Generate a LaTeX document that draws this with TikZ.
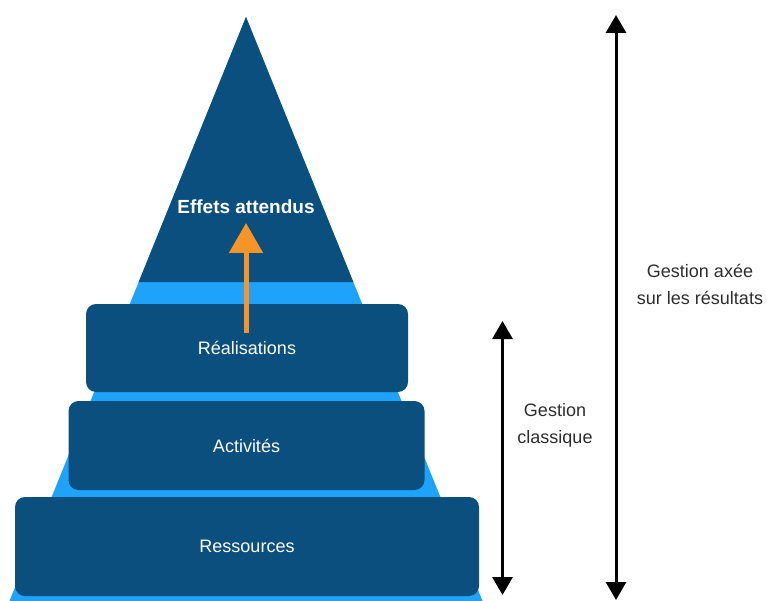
\documentclass[tikz,border=0pt]{standalone}
\usepackage{fontspec}
\setmainfont{Liberation Sans}
\usetikzlibrary{arrows.meta}
\definecolor{darkblue}{RGB}{11,79,126}
\definecolor{lightblue}{RGB}{30,162,250}
\definecolor{orangearrow}{RGB}{245,148,40}
\definecolor{labelgray}{RGB}{45,45,45}
\tikzset{
  layerbox/.style={fill=darkblue, rounded corners=10pt, text=white, inner sep=0pt,
    font=\fontsize{18}{21}\selectfont},
  sidelabel/.style={text=labelgray, align=center, font=\fontsize{18}{27}\selectfont},
  blackarrow/.style={line width=3pt, draw=black, {Triangle[width=20pt,length=18pt]}-{Triangle[width=20pt,length=18pt]}},
  orangearr/.style={line width=5pt, draw=orangearrow, -{Triangle[width=33pt,length=30pt]}}
}
\begin{document}
\begin{tikzpicture}[x=1pt,y=-1pt]
\useasboundingbox (0,0) rectangle (767,601);
% pyramid
\fill[lightblue] (246,17) -- (482.5,601) -- (9.5,601) -- cycle;
\fill[darkblue] (246,17) -- (353.3,282) -- (138.7,282) -- cycle;
\node[text=white, font=\bfseries\fontsize{19}{22}\selectfont] (effets) at (246,207) {Effets attendus};
% layers
\node[layerbox, minimum width=322pt, minimum height=88pt] (real) at (247,348) {Réalisations};
\node[layerbox, minimum width=356pt, minimum height=89pt] (act) at (246.5,445.5) {Activités};
\node[layerbox, minimum width=464pt, minimum height=99pt] (res) at (247,546.5) {Ressources};
% orange arrow
\coordinate (oa) at (246,333);
\coordinate (ob) at (246,223);
\draw[orangearr] (oa) -- (ob);
% black arrows
\coordinate (c1) at (502.5,321);
\coordinate (c2) at (502.5,595);
\draw[blackarrow] (c1) -- (c2);
\coordinate (g1) at (616,15);
\coordinate (g2) at (616,600);
\draw[blackarrow] (g1) -- (g2);
% labels
\node[sidelabel] (classique) at (555,425) {Gestion\\classique};
\node[sidelabel] (gar) at (700,284) {Gestion axée\\sur les résultats};
\end{tikzpicture}
\end{document}
